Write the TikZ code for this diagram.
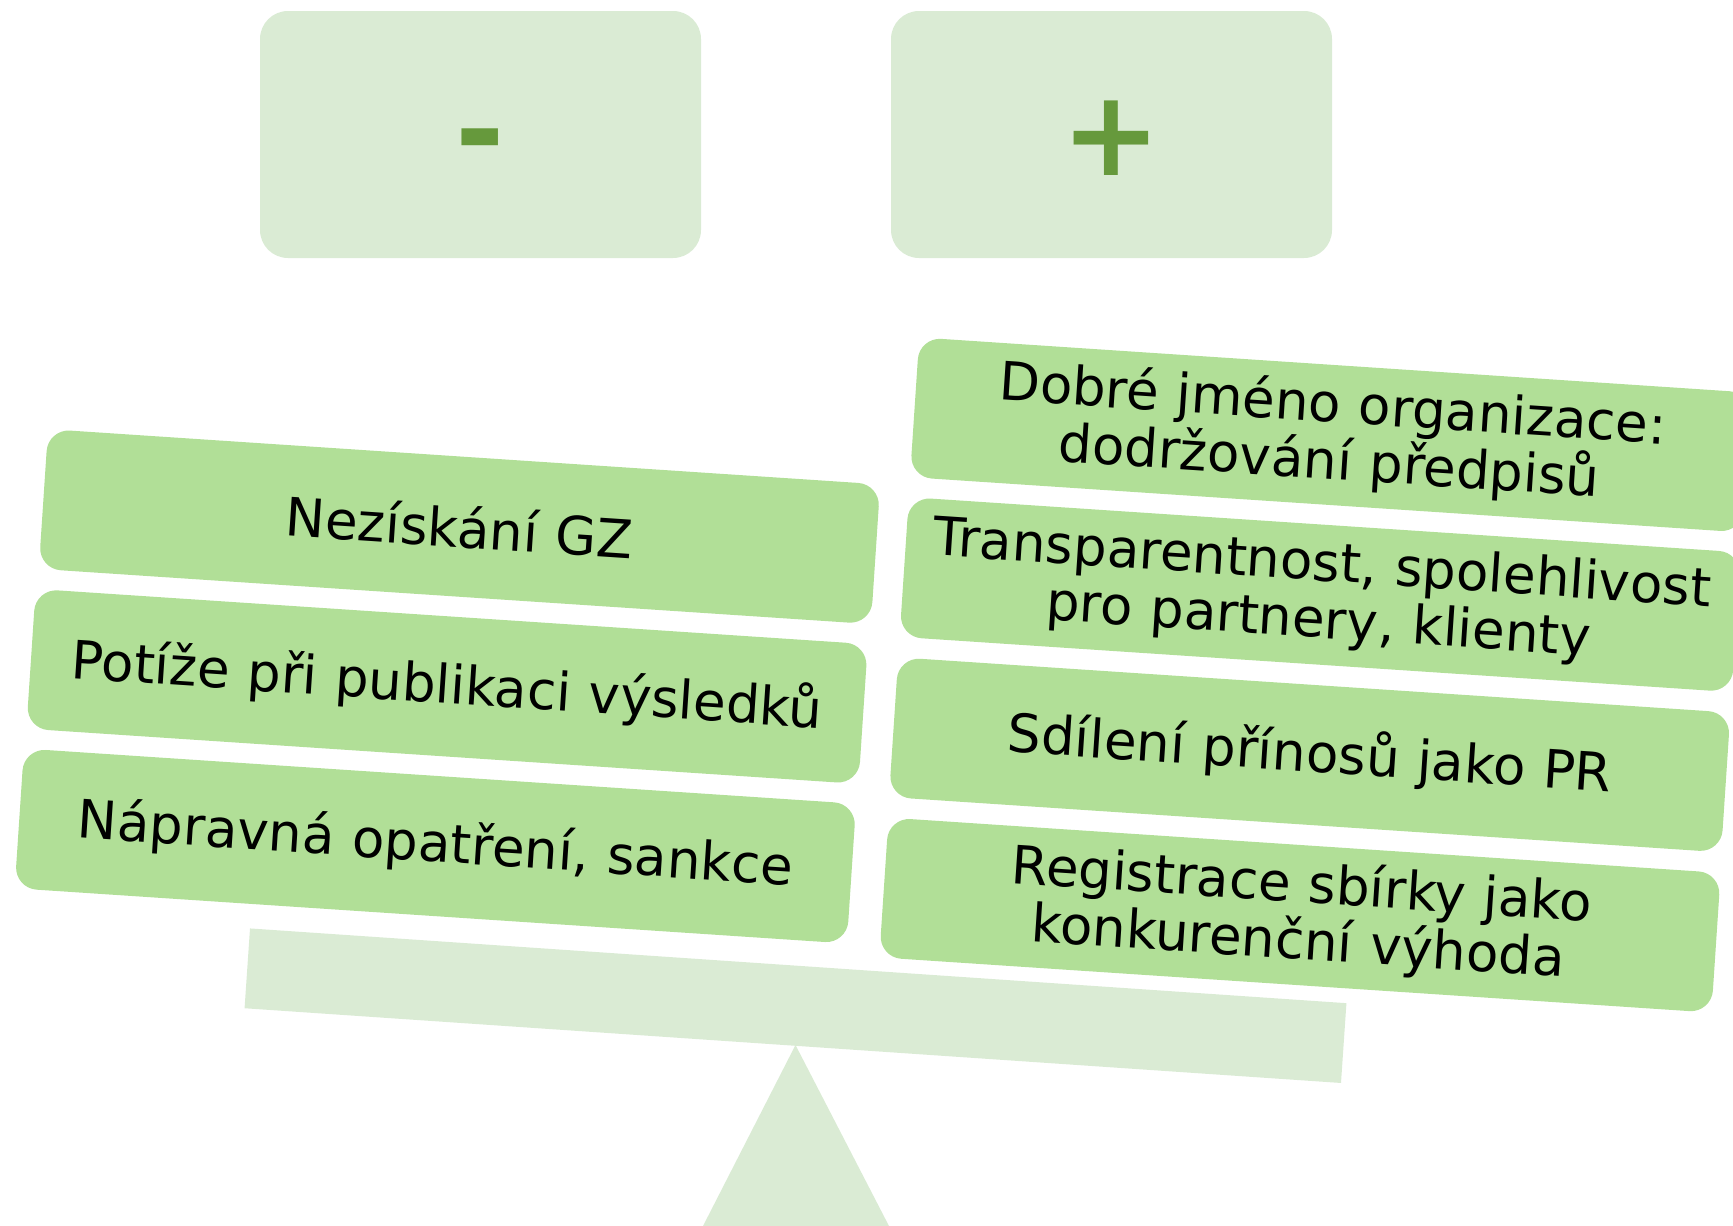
\documentclass[tikz,border=0pt]{standalone}
\usepackage{fontspec}
\setmainfont{DejaVu Sans}
\definecolor{lightbg}{HTML}{DAEBD4}
\definecolor{boxfill}{HTML}{B1DF97}
\definecolor{signcol}{HTML}{66993C}
\begin{document}
\begin{tikzpicture}[x=1pt,y=-1pt,
  topbox/.style={fill=lightbg, draw=none, rounded corners=28pt, minimum width=441pt, minimum height=247pt, inner sep=0pt},
  sign/.style={text=signcol, font=\fontsize{119}{119}\selectfont\bfseries, inner sep=0pt},
  item/.style={fill=boxfill, draw=none, rounded corners=22pt, minimum width=834pt, minimum height=140pt,
    text width=820pt, align=center, inner sep=0pt, rotate=-3.8,
    font=\fontsize{53}{57}\selectfont},
  beamstyle/.style={fill=lightbg, draw=none, minimum width=1099pt, minimum height=80pt, inner sep=0pt, rotate=-3.9}
]
\useasboundingbox (0,0) rectangle (1733,1226);
% fulcrum
\coordinate (apex) at (795.5,1045);
\coordinate (baseL) at (703,1226);
\coordinate (baseR) at (889,1226);
\fill[lightbg] (apex) -- (baseR) -- (baseL) -- cycle;
% beam
\node[beamstyle] (beam) at (795.5,1005.7) {};
% top boxes
\node[topbox] (minusbox) at (480.5,134.5) {};
\node[topbox] (plusbox) at (1111.5,134.5) {};
\node[sign] (minus) at (480.5,150) {-};
\node[sign] (plus) at (1111.5,138) {+};
% left items
\node[item] (l1) at (459.5,526.6) {Nezískání GZ};
\node[item] (l2) at (447.1,686.4) {Potíže při publikaci výsledků};
\node[item] (l3) at (435.4,846.0) {Nápravná opatření, sankce};
% right items
\node[item] (r1) at (1330.7,434.9) {Dobré jméno organizace:\\dodržování předpisů};
\node[item] (r2) at (1320.3,594.6) {Transparentnost, spolehlivost\\pro partnery, klienty};
\node[item] (r3) at (1309.7,754.8) {Sdílení přínosů jako PR};
\node[item] (r4) at (1300.0,915.1) {Registrace sbírky jako\\konkurenční výhoda};
\end{tikzpicture}
\end{document}
